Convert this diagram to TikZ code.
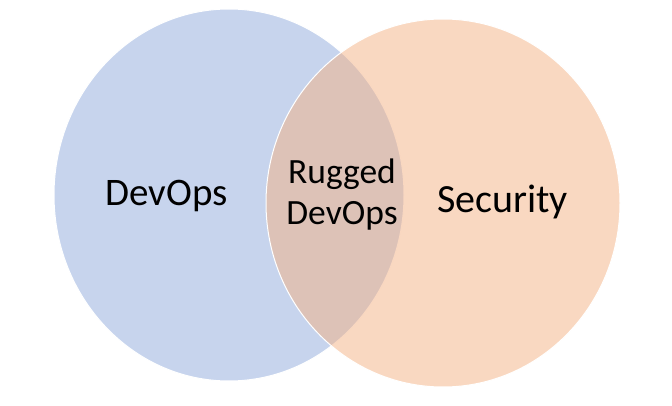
\documentclass[tikz,border=0pt]{standalone}
\usepackage{fontspec}
\setmainfont{Carlito}
\definecolor{devopsblue}{HTML}{8FAADC}
\definecolor{securityorange}{HTML}{F4B183}
\tikzset{
	venn/.style={draw=white, line width=1pt, fill opacity=0.5},
	venntext/.style={font=\fontsize{39}{47}\selectfont, text=black, inner sep=0pt, anchor=base},
	lenstext/.style={font=\fontsize{35.5}{41}\selectfont, text=black, inner sep=0pt, align=center}
}
\begin{document}
\begin{tikzpicture}[x=1pt, y=-1pt]
	%%%%% START %%%%%
	
	\useasboundingbox (0,0) rectangle (672,406);
	
	\draw[venn, fill=devopsblue] (229, 195) ellipse (175 and 186);
	\draw[venn, fill=securityorange] (443, 203) ellipse (177 and 184);
	
	\node[venntext] (devops) at (166.5, 206) {DevOps};
	\node[venntext, font=\fontsize{40}{48}\selectfont] (security) at (502.5, 213) {Security};
	\node[lenstext] (rugged) at (342, 195) {Rugged\\DevOps};
	
	%%%%% END %%%%%
\end{tikzpicture}
\end{document}
